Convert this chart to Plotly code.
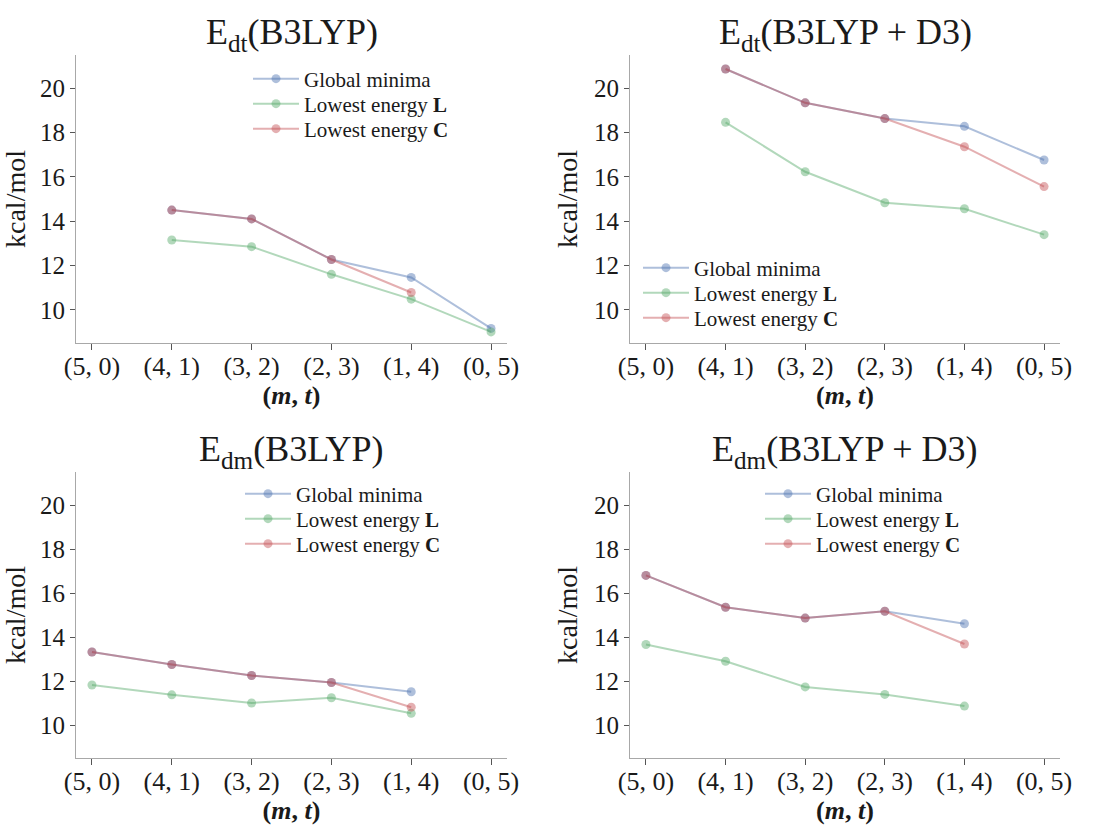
import plotly.graph_objects as go

categories = ["(5, 0)", "(4, 1)", "(3, 2)", "(2, 3)", "(1, 4)", "(0, 5)"]
series_names = ["Global minima", "Lowest energy <b>L</b>", "Lowest energy <b>C</b>"]
panel_titles = ["E<sub>dt</sub>(B3LYP)", "E<sub>dt</sub>(B3LYP + D3)",
                "E<sub>dm</sub>(B3LYP)", "E<sub>dm</sub>(B3LYP + D3)"]

# E_dt(B3LYP)
dt_b3lyp_global = [None, 14.50, 14.10, 12.27, 11.46, 9.16]
dt_b3lyp_L = [None, 13.15, 12.85, 11.60, 10.48, 9.00]
dt_b3lyp_C = [None, 14.50, 14.10, 12.27, 10.78, None]

# E_dt(B3LYP + D3)
dt_d3_global = [None, 20.87, 19.34, 18.63, 18.28, 16.76]
dt_d3_L = [None, 18.46, 16.23, 14.83, 14.56, 13.39]
dt_d3_C = [None, 20.87, 19.34, 18.63, 17.36, 15.56]

# E_dm(B3LYP)
dm_b3lyp_global = [13.32, 12.75, 12.25, 11.93, 11.51, None]
dm_b3lyp_L = [11.82, 11.37, 11.00, 11.24, 10.53, None]
dm_b3lyp_C = [13.32, 12.75, 12.25, 11.93, 10.81, None]

# E_dm(B3LYP + D3)
dm_d3_global = [16.80, 15.35, 14.86, 15.17, 14.60, None]
dm_d3_L = [13.66, 12.90, 11.73, 11.39, 10.86, None]
dm_d3_C = [16.80, 15.35, 14.86, 15.17, 13.68, None]

panels = [
    [dt_b3lyp_global, dt_b3lyp_L, dt_b3lyp_C],
    [dt_d3_global, dt_d3_L, dt_d3_C],
    [dm_b3lyp_global, dm_b3lyp_L, dm_b3lyp_C],
    [dm_d3_global, dm_d3_L, dm_d3_C],
]

colors = ["rgba(76,114,176,0.45)", "rgba(85,168,104,0.45)", "rgba(196,78,82,0.45)"]

W, H = 1104, 830
xdoms = [(76 / W, 507 / W), (630 / W, 1060 / W)]
ydoms = [(1 - 343 / H, 1 - 55 / H), (1 - 758 / H, 1 - 472 / H)]
title_y = [1 - 34 / H, 1 - 451 / H]
# legend anchor per panel: (left x px of symbol, centre y px of first row)
legend_pos = [(248, 79), (638, 268), (240, 494), (760, 494)]
ROW_GAP = 25

FONT = "Liberation Serif"
TXT = "#1a1a1a"
xidx = list(range(len(categories)))

fig = go.Figure()
layout = dict(
    width=W, height=H,
    margin=dict(l=0, r=0, t=0, b=0),
    paper_bgcolor="white", plot_bgcolor="white",
    font=dict(family=FONT, color=TXT),
    showlegend=True,
    annotations=[],
)

for p in range(4):
    row, col = divmod(p, 2)
    ax = "" if p == 0 else str(p + 1)
    lx, ly = legend_pos[p]
    for s in range(3):
        k = p * 3 + s
        leg = "legend" if k == 0 else f"legend{k + 1}"
        fig.add_trace(go.Scatter(
            x=xidx, y=panels[p][s], mode="lines+markers",
            name=series_names[s], showlegend=True,
            line=dict(color=colors[s], width=2),
            marker=dict(color=colors[s], size=9),
            xaxis="x" + ax, yaxis="y" + ax,
            legend=leg, connectgaps=False,
        ))
        layout[leg] = dict(
            x=lx / W, y=1 - (ly + s * ROW_GAP) / H, xanchor="left", yanchor="middle",
            bgcolor="rgba(0,0,0,0)", borderwidth=0, visible=True,
            font=dict(family=FONT, size=21, color=TXT),
            itemwidth=46,
        )
    layout["xaxis" + ax] = dict(
        domain=list(xdoms[col]), anchor="y" + ax, automargin=False,
        range=[-0.2, 5.2], tickmode="array", tickvals=xidx, ticktext=categories,
        showgrid=False, zeroline=False, showline=True, linecolor="#a8a8a8", linewidth=1.2,
        ticks="outside", ticklen=6, tickwidth=1.2, tickcolor="#555555",
        ticklabelstandoff=-6,
        tickfont=dict(family=FONT, size=26, color=TXT),
        title=dict(text="<b>(<i>m</i>, <i>t</i>)</b>", font=dict(family=FONT, size=26, color=TXT), standoff=0),
    )
    layout["yaxis" + ax] = dict(
        domain=list(ydoms[row]), anchor="x" + ax, automargin=False,
        range=[8.5, 21.5], tickmode="array", tickvals=[10, 12, 14, 16, 18, 20],
        showgrid=False, zeroline=False, showline=True, linecolor="#a8a8a8", linewidth=1.2,
        ticks="outside", ticklen=5, tickwidth=1.2, tickcolor="#555555",
        tickfont=dict(family=FONT, size=25, color=TXT),
        title=dict(text="kcal/mol", font=dict(family=FONT, size=28, color=TXT), standoff=8),
    )
    layout["annotations"].append(dict(
        text=panel_titles[p], xref="paper", yref="paper",
        x=sum(xdoms[col]) / 2, y=title_y[row], xanchor="center", yanchor="middle",
        showarrow=False, font=dict(family=FONT, size=36, color=TXT),
    ))

fig.update_layout(**layout)
fig.write_html("out.html")
